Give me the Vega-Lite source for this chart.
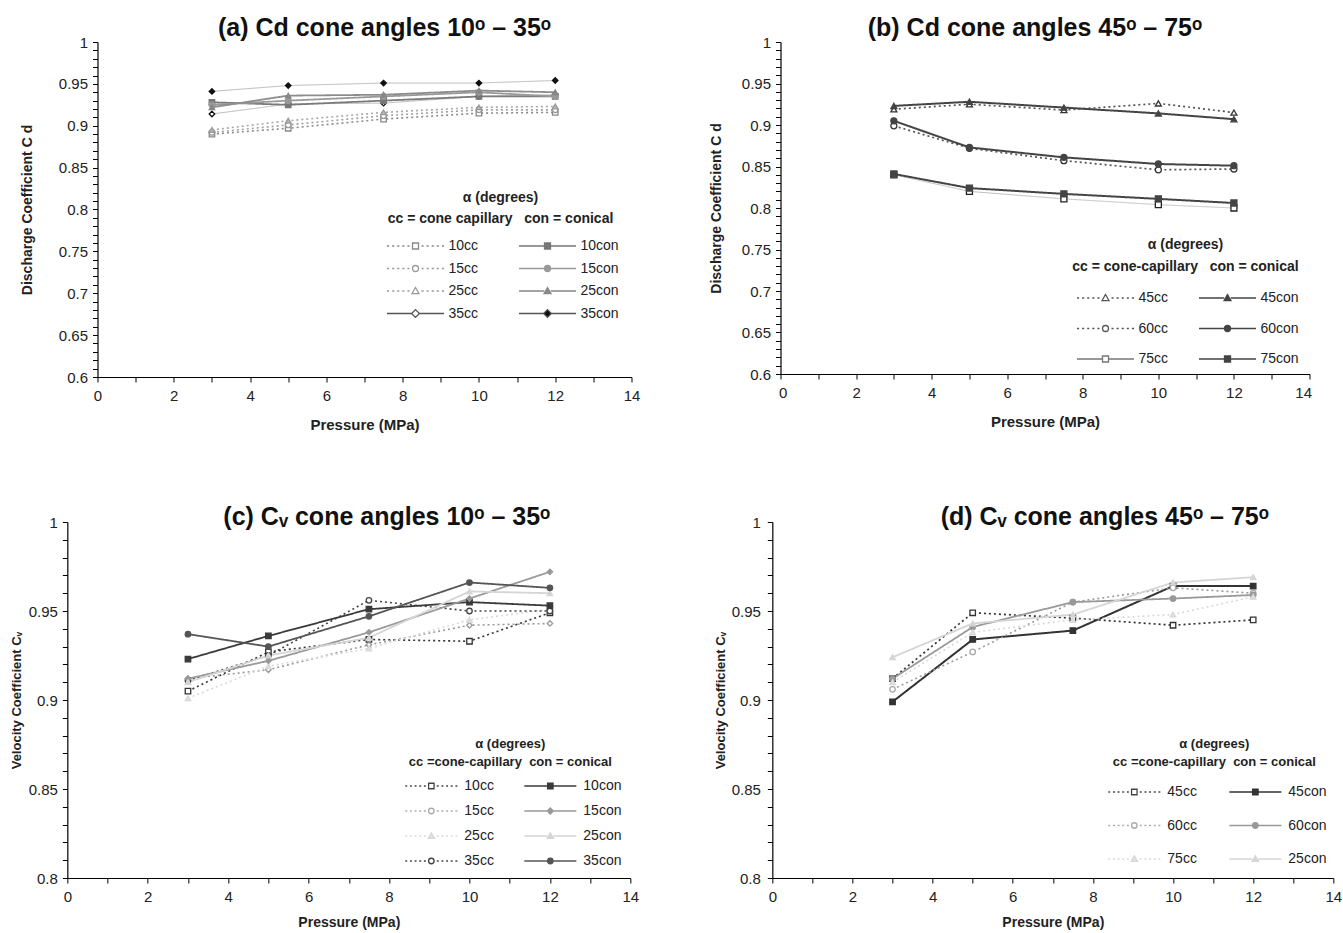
{
  "$schema": "https://vega.github.io/schema/vega-lite/v6.json",
  "background": "white",
  "padding": {"left": 10, "top": 16, "right": 3, "bottom": 2},
  "config": {
    "view": {"stroke": null},
    "font": "Liberation Sans",
    "title": {"fontSize": 25, "font": "Liberation Sans", "fontWeight": "bold", "color": "#111", "anchor": "middle", "frame": "group"},
    "axis": {"domainColor": "#000", "tickColor": "#000", "domainWidth": 1.2, "tickWidth": 1, "tickSize": 5, "labelFont": "Liberation Sans", "labelFontSize": 15, "labelColor": "#222", "titleFont": "Liberation Sans", "titleFontSize": 14, "titleFontWeight": "bold", "titleColor": "#222", "grid": false, "labelOverlap": false, "labelFlush": false, "labelBound": false},
    "legend": {"symbolOpacity": 1, "titleLimit": 500, "labelLimit": 200}
  },
  "center": true,
  "spacing": 73,
  "resolve": {"scale": {"color": "independent", "shape": "independent", "stroke": "independent", "fill": "independent", "strokeDash": "independent", "strokeWidth": "independent"}},
  "vconcat": [
    {
      "spacing": 68,
      "resolve": {"scale": {"color": "independent", "shape": "independent", "stroke": "independent", "fill": "independent", "strokeDash": "independent", "strokeWidth": "independent"}},
      "hconcat": [
        {
          "width": 534, "height": 335,
          "title": {"text": "(a) Cd cone angles 10ᵒ – 35ᵒ", "dx": 20, "offset": -6},
          "data": {"values": [
            {"s": "10cc", "p": 3, "v": 0.890}, {"s": "10cc", "p": 5, "v": 0.897}, {"s": "10cc", "p": 7.5, "v": 0.908}, {"s": "10cc", "p": 10, "v": 0.915}, {"s": "10cc", "p": 12, "v": 0.916},
            {"s": "15cc", "p": 3, "v": 0.892}, {"s": "15cc", "p": 5, "v": 0.901}, {"s": "15cc", "p": 7.5, "v": 0.912}, {"s": "15cc", "p": 10, "v": 0.919}, {"s": "15cc", "p": 12, "v": 0.919},
            {"s": "25cc", "p": 3, "v": 0.895}, {"s": "25cc", "p": 5, "v": 0.906}, {"s": "25cc", "p": 7.5, "v": 0.916}, {"s": "25cc", "p": 10, "v": 0.922}, {"s": "25cc", "p": 12, "v": 0.923},
            {"s": "35cc", "p": 3, "v": 0.914}, {"s": "35cc", "p": 5, "v": 0.926}, {"s": "35cc", "p": 7.5, "v": 0.927}, {"s": "35cc", "p": 10, "v": 0.935}, {"s": "35cc", "p": 12, "v": 0.937},
            {"s": "10con", "p": 3, "v": 0.928}, {"s": "10con", "p": 5, "v": 0.925}, {"s": "10con", "p": 7.5, "v": 0.930}, {"s": "10con", "p": 10, "v": 0.935}, {"s": "10con", "p": 12, "v": 0.935},
            {"s": "15con", "p": 3, "v": 0.925}, {"s": "15con", "p": 5, "v": 0.930}, {"s": "15con", "p": 7.5, "v": 0.935}, {"s": "15con", "p": 10, "v": 0.940}, {"s": "15con", "p": 12, "v": 0.935},
            {"s": "25con", "p": 3, "v": 0.922}, {"s": "25con", "p": 5, "v": 0.936}, {"s": "25con", "p": 7.5, "v": 0.937}, {"s": "25con", "p": 10, "v": 0.942}, {"s": "25con", "p": 12, "v": 0.940},
            {"s": "35con", "p": 3, "v": 0.941}, {"s": "35con", "p": 5, "v": 0.948}, {"s": "35con", "p": 7.5, "v": 0.951}, {"s": "35con", "p": 10, "v": 0.951}, {"s": "35con", "p": 12, "v": 0.954}
          ]},
          "encoding": {
            "x": {"field": "p", "type": "quantitative", "scale": {"domain": [0, 14], "nice": false},
                  "axis": {"values": [0,1,2,3,4,5,6,7,8,9,10,11,12,13,14], "labelExpr": "datum.value % 2 == 0 ? datum.label : ''", "title": "Pressure (MPa)", "titleFontSize": 15, "labelPadding": 6, "titlePadding": 14}},
            "y": {"field": "v", "type": "quantitative", "scale": {"domain": [0.6, 1], "nice": false, "zero": false},
                  "axis": {"values": [0.6,0.61,0.62,0.63,0.64,0.65,0.66,0.67,0.68,0.69,0.7,0.71,0.72,0.73,0.74,0.75,0.76,0.77,0.78,0.79,0.8,0.81,0.82,0.83,0.84,0.85,0.86,0.87,0.88,0.89,0.9,0.91,0.92,0.93,0.94,0.95,0.96,0.97,0.98,0.99,1], "labelExpr": "round(datum.value*100) % 5 == 0 ? format(datum.value, '~g') : ''", "title": "Discharge Coefficient C d", "labelPadding": 5, "titlePadding": 24}}
          },
          "resolve": {"scale": {"color": "independent", "shape": "independent", "stroke": "independent", "fill": "independent", "strokeDash": "independent", "strokeWidth": "independent"}},
          "layer": [
            {"mark": {"type": "line"},
             "encoding": {
               "color": {"field": "s", "type": "nominal", "legend": null, "scale": {"domain": ["10cc","15cc","25cc","35cc","10con","15con","25con","35con"], "range": ["#8a8a8a","#a0a0a0","#a8a8a8","#b8b8b8","#7a7a7a","#9a9a9a","#8c8c8c","#b8b8b8"]}},
               "strokeDash": {"field": "s", "type": "nominal", "legend": null, "scale": {"domain": ["10cc","15cc","25cc","35cc","10con","15con","25con","35con"], "range": [[2,3],[2,3],[2,3],[1,0],[1,0],[1,0],[1,0],[1,0]]}},
               "strokeWidth": {"field": "s", "type": "nominal", "legend": null, "scale": {"type": "ordinal", "domain": ["10cc","15cc","25cc","35cc","10con","15con","25con","35con"], "range": [1.6,1.6,1.6,1,1.8,1.8,1.8,1]}}
             }},
            {"mark": {"type": "point", "size": 30, "strokeWidth": 1.3, "opacity": 1},
             "encoding": {
               "shape": {"field": "s", "type": "nominal", "legend": null, "scale": {"domain": ["10cc","15cc","25cc","35cc","10con","15con","25con","35con"], "range": ["square","circle","triangle-up","diamond","square","circle","triangle-up","diamond"]}},
               "stroke": {"field": "s", "type": "nominal", "legend": null, "scale": {"domain": ["10cc","15cc","25cc","35cc","10con","15con","25con","35con"], "range": ["#888","#999","#999","#111","#777","#999","#888","#111"]}},
               "fill": {"field": "s", "type": "nominal", "legend": null, "scale": {"domain": ["10cc","15cc","25cc","35cc","10con","15con","25con","35con"], "range": ["white","white","#bbb","white","#777","#999","#888","#111"]}}
             }},
            {"mark": {"type": "point", "opacity": 0},
             "encoding": {
               "shape": {"field": "s", "type": "nominal", "scale": {"domain": ["10cc","15cc","25cc","35cc","10con","15con","25con","35con"], "range": [
                 "M-9.5,0H-8.8M-7.8,0H-7.1M-6.1,0H-5.4M-4.4,0H-3.7M-2.7,0H-2M2,0H2.7M3.7,0H4.4M5.4,0H6.1M7.1,0H7.8M8.8,0H9.5M-1,-1H1V1H-1Z",
                 "M-9.5,0H-8.8M-7.8,0H-7.1M-6.1,0H-5.4M-4.4,0H-3.7M-2.7,0H-2M2,0H2.7M3.7,0H4.4M5.4,0H6.1M7.1,0H7.8M8.8,0H9.5M1,0A1,1,0,1,1,-1,0A1,1,0,1,1,1,0Z",
                 "M-9.5,0H-8.8M-7.8,0H-7.1M-6.1,0H-5.4M-4.4,0H-3.7M-2.7,0H-2M2,0H2.7M3.7,0H4.4M5.4,0H6.1M7.1,0H7.8M8.8,0H9.5M0,-1.15L1.15,0.85H-1.15Z",
                 "M-9.5,0H-1.3M1.3,0H9.5M0,-1.3L1.3,0L0,1.3L-1.3,0Z",
                 "M-9.5,0H-1M1,0H9.5M-1,-1H1V1H-1Z",
                 "M-9.5,0H-1M1,0H9.5M1,0A1,1,0,1,1,-1,0A1,1,0,1,1,1,0Z",
                 "M-9.5,0H-1.1M1.1,0H9.5M0,-1.15L1.15,0.85H-1.15Z",
                 "M-9.5,0H-1.3M1.3,0H9.5M0,-1.3L1.3,0L0,1.3L-1.3,0Z"]},
                 "legend": {"title": ["α (degrees)", "cc = cone capillary\u00a0\u00a0\u00a0con = conical"], "orient": "none", "legendX": 285, "legendY": 149, "columns": 2, "columnPadding": 36, "rowPadding": 8.5, "symbolSize": 36, "symbolStrokeWidth": 1.3, "symbolOpacity": 1, "symbolOffset": 26, "labelOffset": 26, "labelFontSize": 14, "labelFont": "Liberation Sans", "labelColor": "#222", "titleFontSize": 14, "titleFont": "Liberation Sans", "titleFontWeight": "bold", "titleAnchor": "middle", "titleAlign": "center", "titleLineHeight": 21, "titlePadding": 13, "titleColor": "#222", "titleLimit": 500}},
               "stroke": {"field": "s", "type": "nominal", "scale": {"domain": ["10cc","15cc","25cc","35cc","10con","15con","25con","35con"], "range": ["#888","#999","#999","#555","#777","#999","#888","#555"]},
                 "legend": {"title": ["α (degrees)", "cc = cone capillary\u00a0\u00a0\u00a0con = conical"], "orient": "none", "legendX": 285, "legendY": 149, "columns": 2, "columnPadding": 36, "rowPadding": 8.5, "symbolSize": 36, "symbolStrokeWidth": 1.3, "symbolOpacity": 1, "symbolOffset": 26, "labelOffset": 26, "labelFontSize": 14, "labelFont": "Liberation Sans", "labelColor": "#222", "titleFontSize": 14, "titleFont": "Liberation Sans", "titleFontWeight": "bold", "titleAnchor": "middle", "titleAlign": "center", "titleLineHeight": 21, "titlePadding": 13, "titleColor": "#222", "titleLimit": 500}},
               "fill": {"field": "s", "type": "nominal", "scale": {"domain": ["10cc","15cc","25cc","35cc","10con","15con","25con","35con"], "range": ["white","white","white","white","#777","#999","#888","#111"]},
                 "legend": {"title": ["α (degrees)", "cc = cone capillary\u00a0\u00a0\u00a0con = conical"], "orient": "none", "legendX": 285, "legendY": 149, "columns": 2, "columnPadding": 36, "rowPadding": 8.5, "symbolSize": 36, "symbolStrokeWidth": 1.3, "symbolOpacity": 1, "symbolOffset": 26, "labelOffset": 26, "labelFontSize": 14, "labelFont": "Liberation Sans", "labelColor": "#222", "titleFontSize": 14, "titleFont": "Liberation Sans", "titleFontWeight": "bold", "titleAnchor": "middle", "titleAlign": "center", "titleLineHeight": 21, "titlePadding": 13, "titleColor": "#222", "titleLimit": 500}}
             }}
          ]
        },
        {
          "width": 529, "height": 332,
          "title": {"text": "(b) Cd cone angles 45ᵒ – 75ᵒ", "dx": -10, "offset": -6},
          "data": {"values": [
            {"s": "45cc", "p": 3, "v": 0.919}, {"s": "45cc", "p": 5, "v": 0.925}, {"s": "45cc", "p": 7.5, "v": 0.918}, {"s": "45cc", "p": 10, "v": 0.926}, {"s": "45cc", "p": 12, "v": 0.915},
            {"s": "45con", "p": 3, "v": 0.923}, {"s": "45con", "p": 5, "v": 0.928}, {"s": "45con", "p": 7.5, "v": 0.921}, {"s": "45con", "p": 10, "v": 0.914}, {"s": "45con", "p": 12, "v": 0.907},
            {"s": "60cc", "p": 3, "v": 0.899}, {"s": "60cc", "p": 5, "v": 0.872}, {"s": "60cc", "p": 7.5, "v": 0.857}, {"s": "60cc", "p": 10, "v": 0.846}, {"s": "60cc", "p": 12, "v": 0.847},
            {"s": "60con", "p": 3, "v": 0.905}, {"s": "60con", "p": 5, "v": 0.873}, {"s": "60con", "p": 7.5, "v": 0.861}, {"s": "60con", "p": 10, "v": 0.853}, {"s": "60con", "p": 12, "v": 0.851},
            {"s": "75cc", "p": 3, "v": 0.840}, {"s": "75cc", "p": 5, "v": 0.820}, {"s": "75cc", "p": 7.5, "v": 0.811}, {"s": "75cc", "p": 10, "v": 0.804}, {"s": "75cc", "p": 12, "v": 0.800},
            {"s": "75con", "p": 3, "v": 0.841}, {"s": "75con", "p": 5, "v": 0.824}, {"s": "75con", "p": 7.5, "v": 0.817}, {"s": "75con", "p": 10, "v": 0.811}, {"s": "75con", "p": 12, "v": 0.806}
          ]},
          "encoding": {
            "x": {"field": "p", "type": "quantitative", "scale": {"domain": [0, 14], "nice": false},
                  "axis": {"values": [0,1,2,3,4,5,6,7,8,9,10,11,12,13,14], "labelExpr": "datum.value % 2 == 0 ? datum.label : ''", "title": "Pressure (MPa)", "titleFontSize": 15, "labelPadding": 6, "titlePadding": 14, "labelFlush": true, "labelFlushOffset": 2}},
            "y": {"field": "v", "type": "quantitative", "scale": {"domain": [0.6, 1], "nice": false, "zero": false},
                  "axis": {"values": [0.6,0.61,0.62,0.63,0.64,0.65,0.66,0.67,0.68,0.69,0.7,0.71,0.72,0.73,0.74,0.75,0.76,0.77,0.78,0.79,0.8,0.81,0.82,0.83,0.84,0.85,0.86,0.87,0.88,0.89,0.9,0.91,0.92,0.93,0.94,0.95,0.96,0.97,0.98,0.99,1], "labelExpr": "round(datum.value*100) % 5 == 0 ? format(datum.value, '~g') : ''", "title": "Discharge Coefficient C d", "labelPadding": 5, "titlePadding": 18}}
          },
          "resolve": {"scale": {"color": "independent", "shape": "independent", "stroke": "independent", "fill": "independent", "strokeDash": "independent", "strokeWidth": "independent"}},
          "layer": [
            {"mark": {"type": "line"},
             "encoding": {
               "color": {"field": "s", "type": "nominal", "legend": null, "scale": {"domain": ["45cc","60cc","75cc","45con","60con","75con"], "range": ["#555","#555","#c0c0c0","#444","#444","#444"]}},
               "strokeDash": {"field": "s", "type": "nominal", "legend": null, "scale": {"domain": ["45cc","60cc","75cc","45con","60con","75con"], "range": [[2,3],[2,3],[1,0],[1,0],[1,0],[1,0]]}},
               "strokeWidth": {"field": "s", "type": "nominal", "legend": null, "scale": {"type": "ordinal", "domain": ["45cc","60cc","75cc","45con","60con","75con"], "range": [1.7,1.7,1,2,2,2]}}
             }},
            {"mark": {"type": "point", "size": 36, "strokeWidth": 1.3, "opacity": 1},
             "encoding": {
               "shape": {"field": "s", "type": "nominal", "legend": null, "scale": {"domain": ["45cc","60cc","75cc","45con","60con","75con"], "range": ["triangle-up","circle","square","triangle-up","circle","square"]}},
               "stroke": {"field": "s", "type": "nominal", "legend": null, "scale": {"domain": ["45cc","60cc","75cc","45con","60con","75con"], "range": ["#333","#333","#222","#444","#444","#444"]}},
               "fill": {"field": "s", "type": "nominal", "legend": null, "scale": {"domain": ["45cc","60cc","75cc","45con","60con","75con"], "range": ["white","white","white","#444","#444","#444"]}}
             }},
            {"mark": {"type": "point", "opacity": 0},
             "encoding": {
               "shape": {"field": "s", "type": "nominal", "scale": {"domain": ["45cc","60cc","75cc","45con","60con","75con"], "range": [
                 "M-9.5,0H-8.8M-7.8,0H-7.1M-6.1,0H-5.4M-4.4,0H-3.7M-2.7,0H-2M2,0H2.7M3.7,0H4.4M5.4,0H6.1M7.1,0H7.8M8.8,0H9.5M0,-1.15L1.15,0.85H-1.15Z",
                 "M-9.5,0H-8.8M-7.8,0H-7.1M-6.1,0H-5.4M-4.4,0H-3.7M-2.7,0H-2M2,0H2.7M3.7,0H4.4M5.4,0H6.1M7.1,0H7.8M8.8,0H9.5M1,0A1,1,0,1,1,-1,0A1,1,0,1,1,1,0Z",
                 "M-9.5,0H-1M1,0H9.5M-1,-1H1V1H-1Z",
                 "M-9.5,0H-1.1M1.1,0H9.5M0,-1.15L1.15,0.85H-1.15Z",
                 "M-9.5,0H-1M1,0H9.5M1,0A1,1,0,1,1,-1,0A1,1,0,1,1,1,0Z",
                 "M-9.5,0H-1M1,0H9.5M-1,-1H1V1H-1Z"]},
                 "legend": {"title": ["α (degrees)", "cc = cone-capillary\u00a0\u00a0\u00a0con = conical"], "orient": "none", "legendX": 292, "legendY": 196, "columns": 2, "columnPadding": 26, "rowPadding": 16.5, "symbolSize": 36, "symbolStrokeWidth": 1.3, "symbolOpacity": 1, "symbolOffset": 26, "labelOffset": 26, "labelFontSize": 14, "labelFont": "Liberation Sans", "labelColor": "#222", "titleFontSize": 14, "titleFont": "Liberation Sans", "titleFontWeight": "bold", "titleAnchor": "middle", "titleAlign": "center", "titleLineHeight": 22, "titlePadding": 17, "titleColor": "#222", "titleLimit": 500}},
               "stroke": {"field": "s", "type": "nominal", "scale": {"domain": ["45cc","60cc","75cc","45con","60con","75con"], "range": ["#555","#555","#777","#444","#444","#444"]},
                 "legend": {"title": ["α (degrees)", "cc = cone-capillary\u00a0\u00a0\u00a0con = conical"], "orient": "none", "legendX": 292, "legendY": 196, "columns": 2, "columnPadding": 26, "rowPadding": 16.5, "symbolSize": 36, "symbolStrokeWidth": 1.3, "symbolOpacity": 1, "symbolOffset": 26, "labelOffset": 26, "labelFontSize": 14, "labelFont": "Liberation Sans", "labelColor": "#222", "titleFontSize": 14, "titleFont": "Liberation Sans", "titleFontWeight": "bold", "titleAnchor": "middle", "titleAlign": "center", "titleLineHeight": 22, "titlePadding": 17, "titleColor": "#222", "titleLimit": 500}},
               "fill": {"field": "s", "type": "nominal", "scale": {"domain": ["45cc","60cc","75cc","45con","60con","75con"], "range": ["white","white","white","#444","#444","#444"]},
                 "legend": {"title": ["α (degrees)", "cc = cone-capillary\u00a0\u00a0\u00a0con = conical"], "orient": "none", "legendX": 292, "legendY": 196, "columns": 2, "columnPadding": 26, "rowPadding": 16.5, "symbolSize": 36, "symbolStrokeWidth": 1.3, "symbolOpacity": 1, "symbolOffset": 26, "labelOffset": 26, "labelFontSize": 14, "labelFont": "Liberation Sans", "labelColor": "#222", "titleFontSize": 14, "titleFont": "Liberation Sans", "titleFontWeight": "bold", "titleAnchor": "middle", "titleAlign": "center", "titleLineHeight": 22, "titlePadding": 17, "titleColor": "#222", "titleLimit": 500}}
             }}
          ]
        }
      ]
    },
    {
      "spacing": 74,
      "resolve": {"scale": {"color": "independent", "shape": "independent", "stroke": "independent", "fill": "independent", "strokeDash": "independent", "strokeWidth": "independent"}},
      "hconcat": [
        {
          "width": 563, "height": 356,
          "title": {"text": "(c) Cᵥ cone angles 10ᵒ – 35ᵒ", "dx": 38, "offset": -15},
          "data": {"values": [
            {"s": "10cc", "p": 3, "v": 0.905}, {"s": "10cc", "p": 5, "v": 0.927}, {"s": "10cc", "p": 7.5, "v": 0.934}, {"s": "10cc", "p": 10, "v": 0.933}, {"s": "10cc", "p": 12, "v": 0.949},
            {"s": "15cc", "p": 3, "v": 0.912}, {"s": "15cc", "p": 5, "v": 0.917}, {"s": "15cc", "p": 7.5, "v": 0.931}, {"s": "15cc", "p": 10, "v": 0.942}, {"s": "15cc", "p": 12, "v": 0.943},
            {"s": "25cc", "p": 3, "v": 0.901}, {"s": "25cc", "p": 5, "v": 0.919}, {"s": "25cc", "p": 7.5, "v": 0.929}, {"s": "25cc", "p": 10, "v": 0.945}, {"s": "25cc", "p": 12, "v": 0.951},
            {"s": "35cc", "p": 3, "v": 0.911}, {"s": "35cc", "p": 5, "v": 0.925}, {"s": "35cc", "p": 7.5, "v": 0.956}, {"s": "35cc", "p": 10, "v": 0.950}, {"s": "35cc", "p": 12, "v": 0.950},
            {"s": "10con", "p": 3, "v": 0.923}, {"s": "10con", "p": 5, "v": 0.936}, {"s": "10con", "p": 7.5, "v": 0.951}, {"s": "10con", "p": 10, "v": 0.955}, {"s": "10con", "p": 12, "v": 0.953},
            {"s": "15con", "p": 3, "v": 0.912}, {"s": "15con", "p": 5, "v": 0.922}, {"s": "15con", "p": 7.5, "v": 0.938}, {"s": "15con", "p": 10, "v": 0.957}, {"s": "15con", "p": 12, "v": 0.972},
            {"s": "25con", "p": 3, "v": 0.910}, {"s": "25con", "p": 5, "v": 0.925}, {"s": "25con", "p": 7.5, "v": 0.935}, {"s": "25con", "p": 10, "v": 0.961}, {"s": "25con", "p": 12, "v": 0.960},
            {"s": "35con", "p": 3, "v": 0.937}, {"s": "35con", "p": 5, "v": 0.930}, {"s": "35con", "p": 7.5, "v": 0.947}, {"s": "35con", "p": 10, "v": 0.966}, {"s": "35con", "p": 12, "v": 0.963}
          ]},
          "encoding": {
            "x": {"field": "p", "type": "quantitative", "scale": {"domain": [0, 14], "nice": false},
                  "axis": {"values": [0,1,2,3,4,5,6,7,8,9,10,11,12,13,14], "labelExpr": "datum.value % 2 == 0 ? datum.label : ''", "title": "Pressure (MPa)", "titleFontSize": 14, "labelPadding": 6, "titlePadding": 11}},
            "y": {"field": "v", "type": "quantitative", "scale": {"domain": [0.8, 1], "nice": false, "zero": false},
                  "axis": {"values": [0.8,0.81,0.82,0.83,0.84,0.85,0.86,0.87,0.88,0.89,0.9,0.91,0.92,0.93,0.94,0.95,0.96,0.97,0.98,0.99,1], "labelExpr": "round(datum.value*100) % 5 == 0 ? format(datum.value, '~g') : ''", "title": "Velocity Coefficient Cᵥ", "titleFontSize": 13, "labelPadding": 5, "titlePadding": 5}}
          },
          "resolve": {"scale": {"color": "independent", "shape": "independent", "stroke": "independent", "fill": "independent", "strokeDash": "independent", "strokeWidth": "independent"}},
          "layer": [
            {"mark": {"type": "line"},
             "encoding": {
               "color": {"field": "s", "type": "nominal", "legend": null, "scale": {"domain": ["10cc","15cc","25cc","35cc","10con","15con","25con","35con"], "range": ["#333","#9a9a9a","#d8d8d8","#444","#3a3a3a","#9a9a9a","#d5d5d5","#555"]}},
               "strokeDash": {"field": "s", "type": "nominal", "legend": null, "scale": {"domain": ["10cc","15cc","25cc","35cc","10con","15con","25con","35con"], "range": [[2,3],[2,3],[2,3],[2,3],[1,0],[1,0],[1,0],[1,0]]}},
               "strokeWidth": {"field": "s", "type": "nominal", "legend": null, "scale": {"type": "ordinal", "domain": ["10cc","15cc","25cc","35cc","10con","15con","25con","35con"], "range": [1.6,1.6,1.6,1.6,1.8,1.8,1.8,1.8]}}
             }},
            {"mark": {"type": "point", "size": 30, "strokeWidth": 1.3, "opacity": 1},
             "encoding": {
               "shape": {"field": "s", "type": "nominal", "legend": null, "scale": {"domain": ["10cc","15cc","25cc","35cc","10con","15con","25con","35con"], "range": ["square","diamond","triangle-up","circle","square","diamond","triangle-up","circle"]}},
               "stroke": {"field": "s", "type": "nominal", "legend": null, "scale": {"domain": ["10cc","15cc","25cc","35cc","10con","15con","25con","35con"], "range": ["#333","#999","#d8d8d8","#444","#3a3a3a","#999","#d5d5d5","#555"]}},
               "fill": {"field": "s", "type": "nominal", "legend": null, "scale": {"domain": ["10cc","15cc","25cc","35cc","10con","15con","25con","35con"], "range": ["white","white","#e0e0e0","white","#3a3a3a","#999","#d5d5d5","#555"]}}
             }},
            {"mark": {"type": "point", "opacity": 0},
             "encoding": {
               "shape": {"field": "s", "type": "nominal", "scale": {"domain": ["10cc","15cc","25cc","35cc","10con","15con","25con","35con"], "range": [
                 "M-9.5,0H-8.8M-7.8,0H-7.1M-6.1,0H-5.4M-4.4,0H-3.7M-2.7,0H-2M2,0H2.7M3.7,0H4.4M5.4,0H6.1M7.1,0H7.8M8.8,0H9.5M-1,-1H1V1H-1Z",
                 "M-9.5,0H-8.8M-7.8,0H-7.1M-6.1,0H-5.4M-4.4,0H-3.7M-2.7,0H-2M2,0H2.7M3.7,0H4.4M5.4,0H6.1M7.1,0H7.8M8.8,0H9.5M1,0A1,1,0,1,1,-1,0A1,1,0,1,1,1,0Z",
                 "M-9.5,0H-8.8M-7.8,0H-7.1M-6.1,0H-5.4M-4.4,0H-3.7M-2.7,0H-2M2,0H2.7M3.7,0H4.4M5.4,0H6.1M7.1,0H7.8M8.8,0H9.5M0,-1.15L1.15,0.85H-1.15Z",
                 "M-9.5,0H-8.8M-7.8,0H-7.1M-6.1,0H-5.4M-4.4,0H-3.7M-2.7,0H-2M2,0H2.7M3.7,0H4.4M5.4,0H6.1M7.1,0H7.8M8.8,0H9.5M1,0A1,1,0,1,1,-1,0A1,1,0,1,1,1,0Z",
                 "M-9.5,0H-1M1,0H9.5M-1,-1H1V1H-1Z",
                 "M-9.5,0H-1M1,0H9.5M0,-1.1L1.1,0L0,1.1L-1.1,0Z",
                 "M-9.5,0H-1.1M1.1,0H9.5M0,-1.15L1.15,0.85H-1.15Z",
                 "M-9.5,0H-1M1,0H9.5M1,0A1,1,0,1,1,-1,0A1,1,0,1,1,1,0Z"]},
                 "legend": {"title": ["α (degrees)", "cc =cone-capillary\u00a0\u00a0con = conical"], "orient": "none", "legendX": 331, "legendY": 216, "columns": 2, "columnPadding": 23, "rowPadding": 11, "symbolSize": 30, "symbolStrokeWidth": 1.3, "symbolOpacity": 1, "symbolOffset": 26, "labelOffset": 26, "labelFontSize": 14, "labelFont": "Liberation Sans", "labelColor": "#222", "titleFontSize": 13, "titleFont": "Liberation Sans", "titleFontWeight": "bold", "titleAnchor": "middle", "titleAlign": "center", "titleLineHeight": 18, "titlePadding": 10, "titleColor": "#222", "titleLimit": 500}},
               "stroke": {"field": "s", "type": "nominal", "scale": {"domain": ["10cc","15cc","25cc","35cc","10con","15con","25con","35con"], "range": ["#444","#aaa","#d8d8d8","#444","#3a3a3a","#999","#d5d5d5","#555"]},
                 "legend": {"title": ["α (degrees)", "cc =cone-capillary\u00a0\u00a0con = conical"], "orient": "none", "legendX": 331, "legendY": 216, "columns": 2, "columnPadding": 23, "rowPadding": 11, "symbolSize": 30, "symbolStrokeWidth": 1.3, "symbolOpacity": 1, "symbolOffset": 26, "labelOffset": 26, "labelFontSize": 14, "labelFont": "Liberation Sans", "labelColor": "#222", "titleFontSize": 13, "titleFont": "Liberation Sans", "titleFontWeight": "bold", "titleAnchor": "middle", "titleAlign": "center", "titleLineHeight": 18, "titlePadding": 10, "titleColor": "#222", "titleLimit": 500}},
               "fill": {"field": "s", "type": "nominal", "scale": {"domain": ["10cc","15cc","25cc","35cc","10con","15con","25con","35con"], "range": ["white","white","#e0e0e0","white","#3a3a3a","#999","#d5d5d5","#555"]},
                 "legend": {"title": ["α (degrees)", "cc =cone-capillary\u00a0\u00a0con = conical"], "orient": "none", "legendX": 331, "legendY": 216, "columns": 2, "columnPadding": 23, "rowPadding": 11, "symbolSize": 30, "symbolStrokeWidth": 1.3, "symbolOpacity": 1, "symbolOffset": 26, "labelOffset": 26, "labelFontSize": 14, "labelFont": "Liberation Sans", "labelColor": "#222", "titleFontSize": 13, "titleFont": "Liberation Sans", "titleFontWeight": "bold", "titleAnchor": "middle", "titleAlign": "center", "titleLineHeight": 18, "titlePadding": 10, "titleColor": "#222", "titleLimit": 500}}
             }}
          ]
        },
        {
          "width": 561, "height": 356,
          "title": {"text": "(d) Cᵥ cone angles 45ᵒ – 75ᵒ", "dx": 52, "offset": -15},
          "data": {"values": [
            {"s": "45cc", "p": 3, "v": 0.912}, {"s": "45cc", "p": 5, "v": 0.949}, {"s": "45cc", "p": 7.5, "v": 0.946}, {"s": "45cc", "p": 10, "v": 0.942}, {"s": "45cc", "p": 12, "v": 0.945},
            {"s": "45con", "p": 3, "v": 0.899}, {"s": "45con", "p": 5, "v": 0.934}, {"s": "45con", "p": 7.5, "v": 0.939}, {"s": "45con", "p": 10, "v": 0.964}, {"s": "45con", "p": 12, "v": 0.964},
            {"s": "60cc", "p": 3, "v": 0.906}, {"s": "60cc", "p": 5, "v": 0.927}, {"s": "60cc", "p": 7.5, "v": 0.955}, {"s": "60cc", "p": 10, "v": 0.963}, {"s": "60cc", "p": 12, "v": 0.960},
            {"s": "60con", "p": 3, "v": 0.912}, {"s": "60con", "p": 5, "v": 0.941}, {"s": "60con", "p": 7.5, "v": 0.955}, {"s": "60con", "p": 10, "v": 0.957}, {"s": "60con", "p": 12, "v": 0.959},
            {"s": "75cc", "p": 3, "v": 0.910}, {"s": "75cc", "p": 5, "v": 0.938}, {"s": "75cc", "p": 7.5, "v": 0.945}, {"s": "75cc", "p": 10, "v": 0.948}, {"s": "75cc", "p": 12, "v": 0.958},
            {"s": "25con", "p": 3, "v": 0.924}, {"s": "25con", "p": 5, "v": 0.943}, {"s": "25con", "p": 7.5, "v": 0.948}, {"s": "25con", "p": 10, "v": 0.966}, {"s": "25con", "p": 12, "v": 0.969}
          ]},
          "encoding": {
            "x": {"field": "p", "type": "quantitative", "scale": {"domain": [0, 14], "nice": false},
                  "axis": {"values": [0,1,2,3,4,5,6,7,8,9,10,11,12,13,14], "labelExpr": "datum.value % 2 == 0 ? datum.label : ''", "title": "Pressure (MPa)", "titleFontSize": 14, "labelPadding": 6, "titlePadding": 11}},
            "y": {"field": "v", "type": "quantitative", "scale": {"domain": [0.8, 1], "nice": false, "zero": false},
                  "axis": {"values": [0.8,0.81,0.82,0.83,0.84,0.85,0.86,0.87,0.88,0.89,0.9,0.91,0.92,0.93,0.94,0.95,0.96,0.97,0.98,0.99,1], "labelExpr": "round(datum.value*100) % 5 == 0 ? format(datum.value, '~g') : ''", "title": "Velocity Coefficient Cᵥ", "titleFontSize": 13, "labelPadding": 7, "titlePadding": 4}}
          },
          "resolve": {"scale": {"color": "independent", "shape": "independent", "stroke": "independent", "fill": "independent", "strokeDash": "independent", "strokeWidth": "independent"}},
          "layer": [
            {"mark": {"type": "line"},
             "encoding": {
               "color": {"field": "s", "type": "nominal", "legend": null, "scale": {"domain": ["45cc","60cc","75cc","45con","60con","25con"], "range": ["#333","#9a9a9a","#d8d8d8","#333","#999","#d5d5d5"]}},
               "strokeDash": {"field": "s", "type": "nominal", "legend": null, "scale": {"domain": ["45cc","60cc","75cc","45con","60con","25con"], "range": [[2,3],[2,3],[2,3],[1,0],[1,0],[1,0]]}},
               "strokeWidth": {"field": "s", "type": "nominal", "legend": null, "scale": {"type": "ordinal", "domain": ["45cc","60cc","75cc","45con","60con","25con"], "range": [1.7,1.6,1.6,2,1.8,1.8]}}
             }},
            {"mark": {"type": "point", "size": 30, "strokeWidth": 1.3, "opacity": 1},
             "encoding": {
               "shape": {"field": "s", "type": "nominal", "legend": null, "scale": {"domain": ["45cc","60cc","75cc","45con","60con","25con"], "range": ["square","circle","triangle-up","square","circle","triangle-up"]}},
               "stroke": {"field": "s", "type": "nominal", "legend": null, "scale": {"domain": ["45cc","60cc","75cc","45con","60con","25con"], "range": ["#333","#aaa","#d8d8d8","#333","#999","#d5d5d5"]}},
               "fill": {"field": "s", "type": "nominal", "legend": null, "scale": {"domain": ["45cc","60cc","75cc","45con","60con","25con"], "range": ["white","white","#e0e0e0","#333","#999","#d5d5d5"]}}
             }},
            {"mark": {"type": "point", "opacity": 0},
             "encoding": {
               "shape": {"field": "s", "type": "nominal", "scale": {"domain": ["45cc","60cc","75cc","45con","60con","25con"], "range": [
                 "M-9.5,0H-8.8M-7.8,0H-7.1M-6.1,0H-5.4M-4.4,0H-3.7M-2.7,0H-2M2,0H2.7M3.7,0H4.4M5.4,0H6.1M7.1,0H7.8M8.8,0H9.5M-1,-1H1V1H-1Z",
                 "M-9.5,0H-8.8M-7.8,0H-7.1M-6.1,0H-5.4M-4.4,0H-3.7M-2.7,0H-2M2,0H2.7M3.7,0H4.4M5.4,0H6.1M7.1,0H7.8M8.8,0H9.5M1,0A1,1,0,1,1,-1,0A1,1,0,1,1,1,0Z",
                 "M-9.5,0H-8.8M-7.8,0H-7.1M-6.1,0H-5.4M-4.4,0H-3.7M-2.7,0H-2M2,0H2.7M3.7,0H4.4M5.4,0H6.1M7.1,0H7.8M8.8,0H9.5M0,-1.15L1.15,0.85H-1.15Z",
                 "M-9.5,0H-1M1,0H9.5M-1,-1H1V1H-1Z",
                 "M-9.5,0H-1M1,0H9.5M1,0A1,1,0,1,1,-1,0A1,1,0,1,1,1,0Z",
                 "M-9.5,0H-1.1M1.1,0H9.5M0,-1.15L1.15,0.85H-1.15Z"]},
                 "legend": {"title": ["α (degrees)", "cc =cone-capillary\u00a0\u00a0con = conical"], "orient": "none", "legendX": 329, "legendY": 216, "columns": 2, "columnPadding": 25, "rowPadding": 19.5, "symbolSize": 30, "symbolStrokeWidth": 1.3, "symbolOpacity": 1, "symbolOffset": 26, "labelOffset": 26, "labelFontSize": 14, "labelFont": "Liberation Sans", "labelColor": "#222", "titleFontSize": 13, "titleFont": "Liberation Sans", "titleFontWeight": "bold", "titleAnchor": "middle", "titleAlign": "center", "titleLineHeight": 18, "titlePadding": 16, "titleColor": "#222", "titleLimit": 500}},
               "stroke": {"field": "s", "type": "nominal", "scale": {"domain": ["45cc","60cc","75cc","45con","60con","25con"], "range": ["#444","#aaa","#d8d8d8","#333","#999","#d5d5d5"]},
                 "legend": {"title": ["α (degrees)", "cc =cone-capillary\u00a0\u00a0con = conical"], "orient": "none", "legendX": 329, "legendY": 216, "columns": 2, "columnPadding": 25, "rowPadding": 19.5, "symbolSize": 30, "symbolStrokeWidth": 1.3, "symbolOpacity": 1, "symbolOffset": 26, "labelOffset": 26, "labelFontSize": 14, "labelFont": "Liberation Sans", "labelColor": "#222", "titleFontSize": 13, "titleFont": "Liberation Sans", "titleFontWeight": "bold", "titleAnchor": "middle", "titleAlign": "center", "titleLineHeight": 18, "titlePadding": 16, "titleColor": "#222", "titleLimit": 500}},
               "fill": {"field": "s", "type": "nominal", "scale": {"domain": ["45cc","60cc","75cc","45con","60con","25con"], "range": ["white","white","#e0e0e0","#333","#999","#d5d5d5"]},
                 "legend": {"title": ["α (degrees)", "cc =cone-capillary\u00a0\u00a0con = conical"], "orient": "none", "legendX": 329, "legendY": 216, "columns": 2, "columnPadding": 25, "rowPadding": 19.5, "symbolSize": 30, "symbolStrokeWidth": 1.3, "symbolOpacity": 1, "symbolOffset": 26, "labelOffset": 26, "labelFontSize": 14, "labelFont": "Liberation Sans", "labelColor": "#222", "titleFontSize": 13, "titleFont": "Liberation Sans", "titleFontWeight": "bold", "titleAnchor": "middle", "titleAlign": "center", "titleLineHeight": 18, "titlePadding": 16, "titleColor": "#222", "titleLimit": 500}}
             }}
          ]
        }
      ]
    }
  ]
}
